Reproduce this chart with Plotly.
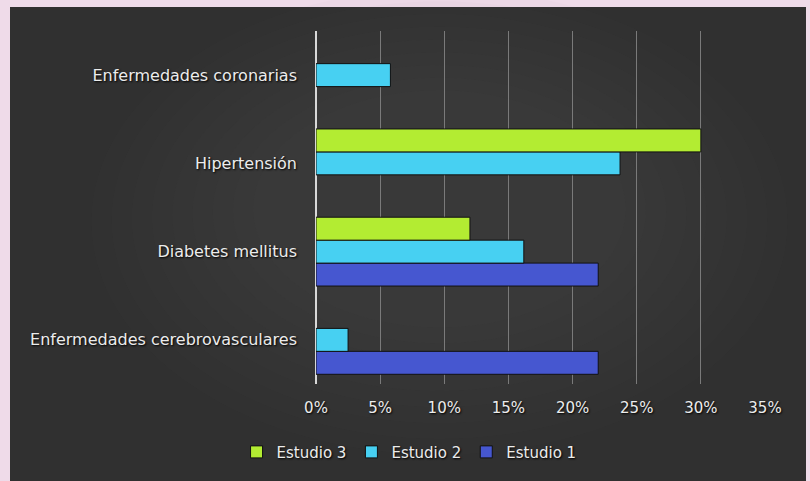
import plotly.graph_objects as go

categories = ["Enfermedades cerebrovasculares", "Diabetes mellitus", "Hipertensión", "Enfermedades coronarias"]
estudio1 = [0.22, 0.22, None, None]
estudio2 = [0.025, 0.162, 0.237, 0.058]
estudio3 = [None, 0.12, 0.30, None]
series_names = ["Estudio 1", "Estudio 2", "Estudio 3"]
series_colors = ["#4657d0", "#47d0f2", "#b3ec32"]
tick_vals = [0, 0.05, 0.10, 0.15, 0.20, 0.25, 0.30, 0.35]
tick_text = ["0%", "5%", "10%", "15%", "20%", "25%", "30%", "35%"]

font_family = "DejaVu Sans, Liberation Sans, Arial"
shadow = "1px 1px 2px #000"

fig = go.Figure()
for name, vals, col in zip(series_names, [estudio1, estudio2, estudio3], series_colors):
    fig.add_trace(go.Bar(
        y=categories, x=vals, name=name, orientation="h",
        marker=dict(color=col, line=dict(color="#111", width=1)),
    ))

# subtle radial-ish lightening of the dark panel
glow = []
steps = 9
for i in range(steps):
    pad = i * 0.045
    glow.append(dict(type="circle", xref="paper", yref="paper", layer="below",
                     x0=-0.5 + pad, x1=1.05 - pad, y0=-0.2 + pad, y1=1.12 - pad * 0.8,
                     fillcolor="rgba(110,110,110,0.022)", line=dict(width=0)))

fig.update_layout(
    width=810, height=481,
    barmode="group", bargap=0.22, bargroupgap=0.0,
    paper_bgcolor="#efdbe9", plot_bgcolor="rgba(0,0,0,0)",
    margin=dict(l=316, r=45, t=31, b=97),
    font=dict(family=font_family, size=15, color="#ececec", shadow=shadow),
    xaxis=dict(range=[0, 0.35], tickvals=tick_vals, ticktext=tick_text,
               showgrid=True, gridcolor="#7a7a7a", gridwidth=1,
               zeroline=True, zerolinecolor="#d8d8d8", zerolinewidth=1.5,
               showline=False, ticks="", ticklabelstandoff=13, fixedrange=True,
               tickfont=dict(size=15)),
    yaxis=dict(showgrid=False, ticks="", ticklabelstandoff=18, showline=False,
               tickfont=dict(size=16)),
    legend=dict(orientation="h", traceorder="reversed",
                xref="container", x=0.505, xanchor="center",
                yref="container", y=0.06, yanchor="middle",
                font=dict(size=15, color="#ececec", family=font_family, shadow=shadow),
                itemwidth=30, bgcolor="rgba(0,0,0,0)"),
    showlegend=True,
    shapes=[
        dict(type="rect", xref="paper", yref="paper", layer="below",
             x0=-306/449, x1=1 + 41/449, y0=-97/353, y1=1 + 24/353,
             fillcolor="#303030", line=dict(width=0)),
    ] + glow,
)

fig.write_html("out.html")
